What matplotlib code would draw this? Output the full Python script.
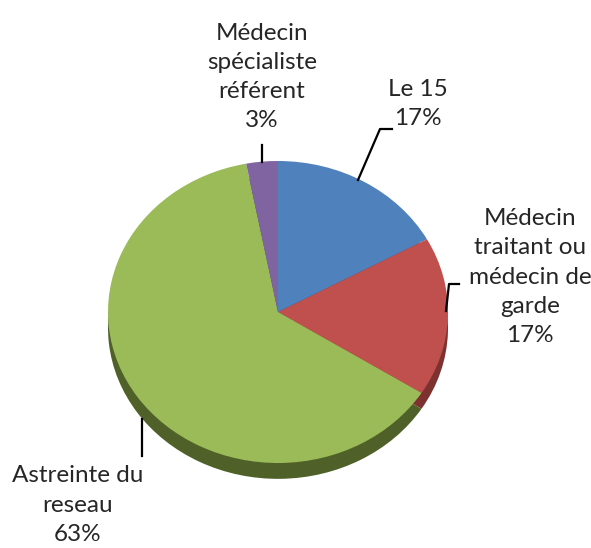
import matplotlib
matplotlib.use('Agg')
import matplotlib.pyplot as plt

labels = ['Le 15', 'Médecin\ntraitant ou\nmédecin de\ngarde', 'Astreinte du\nreseau', 'Médecin\nspécialiste\nréférent']
values = [17, 17, 63, 3]
colors = ['#4F81BD', '#C0504D', '#9BBB59', '#8064A2']
side_colors = ['#34557d', '#7e3230', '#4f6128', '#54416c']

W, H = 591, 548
fig = plt.figure(figsize=(W / 100, H / 100), dpi=100)

# pie axes, ellipse 340 x 302 px centred at (278, 312) px from top-left
cx, cy, rx, ry = 278, 312, 170, 151
depth = 0.105
ax = fig.add_axes([(cx - rx) / W, (H - cy - ry * (1 + depth * 1.2)) / H,
                   2 * rx / W, ry * (2 + depth * 1.2) / H])
ax.pie(values, colors=side_colors, startangle=90, counterclock=False,
       center=(0, -depth), wedgeprops=dict(linewidth=0))
ax.pie(values, colors=colors, startangle=90, counterclock=False,
       wedgeprops=dict(linewidth=0))
ax.set_aspect('auto')
ax.set_xlim(-1, 1)
ax.set_ylim(-1 - depth * 1.2, 1)
ax.axis('off')

# overlay in pixel coordinates for labels and leader lines
ov = fig.add_axes([0, 0, 1, 1])
ov.set_xlim(0, W)
ov.set_ylim(H, 0)
ov.axis('off')

fs = 17.5
tc = '#262626'
pct = [f'{v}%' for v in values]
tk = dict(ha='center', va='center', fontsize=fs, color=tc, family='Lato', linespacing=1.48)
ov.text(418, 104, labels[0] + '\n' + pct[0], **tk)
ov.text(530, 277, labels[1] + '\n' + pct[1], **tk)
ov.text(78, 505, labels[2] + '\n' + pct[2], **tk)
ov.text(262, 77, labels[3] + '\n' + pct[3], **tk)

lk = dict(color='black', lw=1.6)
ov.plot([392, 380, 358], [129, 129, 180], **lk)
ov.plot([459, 449, 446], [284, 284, 311], **lk)
ov.plot([142, 142], [419, 456], **lk)
ov.plot([262, 262], [145, 162], **lk)

fig.savefig('out.png', dpi=100)
